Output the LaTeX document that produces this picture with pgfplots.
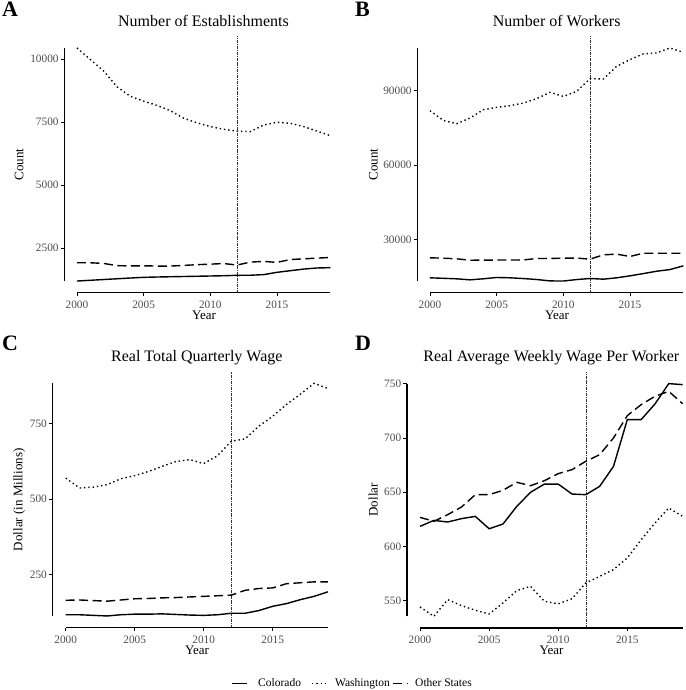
\documentclass[border=0pt]{standalone}
\usepackage{fontspec}
\setmainfont{Liberation Serif}
\usepackage{pgfplots}
\pgfplotsset{compat=1.18}

\tikzset{
  co/.style={black, line width=1.4pt},
  wa/.style={black, line width=1.4pt, dash pattern=on 1.4pt off 2.9pt},
  ot/.style={black, line width=1.4pt, dash pattern=on 9pt off 4.5pt},
  refl/.style={black!80, line width=0.6pt, dash pattern=on 3pt off 1pt on 0.8pt off 1pt},
}
\pgfplotsset{
  panel/.style={
    scale only axis, anchor=south west,
    axis lines*=left, axis line style={draw=none},
    clip=false, scaled ticks=false,
    xmin=1999.05, xmax=2019.95,
    xtick={2000,2005,2010,2015}, xticklabels={2000,2005,2010,2015},
    tick align=outside, major tick length=3.5pt,
    tick style={black, line width=0.7pt},
    ticklabel style={font=\fontsize{11.3}{13}\selectfont, text=black!70},
    yticklabel style={xshift=1.3pt},
    xticklabel style={yshift=-1pt},
  },
}
\newcommand{\capaxes}{%
  \draw[line width=1.6pt] (rel axis cs:0,0.04545) -- (rel axis cs:0,0.95455);
  \draw[line width=1.6pt] (rel axis cs:0.04545,0) -- (rel axis cs:0.95455,0);}

\begin{document}
\begin{tikzpicture}
\useasboundingbox (0,0) rectangle (685pt,690pt);

% A: establishments
\begin{axis}[panel, at={(64.3pt,397.3pt)}, width=278.7pt, height=256.4pt,
  ymin=737.5, ymax=10912.5,
  ytick={2500,5000,7500,10000}, yticklabels={2500,5000,7500,10000}]
\addplot[refl] coordinates {(2012,737.5) (2012,10912.5)};
\addplot[co] coordinates {(2000,1200) (2001,1230) (2002,1260) (2003,1290) (2004,1320) (2005,1347) (2006,1360) (2007,1370) (2008,1380) (2009,1390) (2010,1400) (2011,1410) (2012,1427) (2013,1430) (2014,1455) (2015,1546) (2016,1610) (2017,1675) (2018,1718) (2019,1731)};
\addplot[wa] coordinates {(2000,10450) (2001,9990) (2002,9540) (2003,8910) (2004,8530) (2005,8340) (2006,8170) (2007,7960) (2008,7660) (2009,7480) (2010,7330) (2011,7220) (2012,7150) (2013,7130) (2014,7390) (2015,7500) (2016,7460) (2017,7330) (2018,7150) (2019,6970)};
\addplot[ot] coordinates {(2000,1925) (2001,1925) (2002,1900) (2003,1810) (2004,1800) (2005,1805) (2006,1795) (2007,1793) (2008,1820) (2009,1850) (2010,1870) (2011,1895) (2012,1835) (2013,1950) (2014,1980) (2015,1940) (2016,2055) (2017,2080) (2018,2110) (2019,2135)};
\capaxes
\end{axis}

% B: workers
\begin{axis}[panel, at={(417.3pt,397.3pt)}, width=278.7pt, height=256.4pt,
  ymin=8710, ymax=111890,
  ytick={30000,60000,90000}, yticklabels={30000,60000,90000}]
\addplot[refl] coordinates {(2012,8710) (2012,111890)};
\addplot[co] coordinates {(2000,14690) (2001,14500) (2002,14290) (2003,13880) (2004,14300) (2005,14830) (2006,14700) (2007,14400) (2008,14020) (2009,13450) (2010,13400) (2011,14000) (2012,14420) (2013,14150) (2014,14700) (2015,15490) (2016,16400) (2017,17350) (2018,18020) (2019,19520)};
\addplot[wa] coordinates {(2000,81940) (2001,78030) (2002,76700) (2003,79000) (2004,82340) (2005,83270) (2006,83950) (2007,85000) (2008,86800) (2009,89330) (2010,87700) (2011,89720) (2012,94840) (2013,94700) (2014,99800) (2015,102500) (2016,104800) (2017,105200) (2018,107200) (2019,105400)};
\addplot[ot] coordinates {(2000,22750) (2001,22600) (2002,22340) (2003,21780) (2004,21800) (2005,21850) (2006,21850) (2007,21900) (2008,22460) (2009,22500) (2010,22600) (2011,22650) (2012,22190) (2013,23950) (2014,24220) (2015,23270) (2016,24600) (2017,24600) (2018,24600) (2019,24600)};
\capaxes
\end{axis}

% C: total quarterly wage
\begin{axis}[panel, at={(52.6pt,62.4pt)}, width=288.4pt, height=255.9pt,
  ymin=74.45, ymax=922.55,
  ytick={250,500,750}, yticklabels={250,500,750}]
\addplot[refl] coordinates {(2012,74.45) (2012,922.55)};
\addplot[co] coordinates {(2000,117) (2001,117) (2002,115) (2003,113) (2004,117) (2005,119) (2006,119) (2007,120) (2008,118) (2009,116) (2010,115) (2011,117) (2012,122) (2013,122) (2014,131) (2015,145) (2016,154) (2017,167) (2018,178) (2019,193)};
\addplot[wa] coordinates {(2000,570) (2001,537) (2002,540) (2003,548) (2004,568) (2005,578) (2006,592) (2007,609) (2008,625) (2009,631) (2010,618) (2011,644) (2012,692) (2013,700) (2014,742) (2015,775) (2016,814) (2017,848) (2018,884) (2019,867)};
\addplot[ot] coordinates {(2000,165) (2001,166) (2002,164) (2003,162) (2004,166) (2005,170) (2006,171) (2007,173) (2008,174) (2009,176) (2010,178) (2011,180) (2012,182) (2013,198) (2014,204) (2015,206) (2016,220) (2017,223) (2018,226) (2019,226)};
\capaxes
\end{axis}

% D: average weekly wage
\begin{axis}[panel, at={(406.9pt,62pt)}, width=288.8pt, height=256pt,
  ymin=524.67, ymax=760.73,
  ytick={550,600,650,700,750}, yticklabels={550,600,650,700,750}]
\addplot[refl] coordinates {(2012,524.67) (2012,760.73)};
\addplot[co] coordinates {(2000,618.4) (2001,623.9) (2002,622.4) (2003,625.5) (2004,627.6) (2005,616.2) (2006,620.5) (2007,636.8) (2008,649.8) (2009,657.4) (2010,657.4) (2011,648.2) (2012,647.6) (2013,655.3) (2014,673.7) (2015,716.8) (2016,716.8) (2017,731.2) (2018,750.0) (2019,749.1)};
\addplot[wa] coordinates {(2000,544.1) (2001,535.4) (2002,550.8) (2003,545.3) (2004,541.0) (2005,537.6) (2006,547.8) (2007,559.1) (2008,563.1) (2009,549.3) (2010,546.9) (2011,551.7) (2012,566.2) (2013,572.3) (2014,578.5) (2015,589.3) (2016,606.0) (2017,621.5) (2018,635.3) (2019,627.6)};
\addplot[ot] coordinates {(2000,626.7) (2001,623.0) (2002,629.2) (2003,636.2) (2004,647.6) (2005,647.6) (2006,651.6) (2007,659.0) (2008,655.9) (2009,660.5) (2010,667.0) (2011,670.7) (2012,678.4) (2013,684.5) (2014,699.9) (2015,720.5) (2016,730.6) (2017,738.3) (2018,742.9) (2019,731.5)};
\capaxes
\end{axis}

% titles
\begin{scope}[every node/.style={font=\fontsize{16}{18}\selectfont, anchor=base, inner sep=0pt}]
\node at (203.5pt,663.3pt) {Number of Establishments};
\node at (556.7pt,663.3pt) {Number of Workers};
\node at (196.8pt,328.3pt) {Real Total Quarterly Wage};
\node at (551.3pt,328.3pt) {Real Average Weekly Wage Per Worker};
\end{scope}
% axis titles
\begin{scope}[every node/.style={font=\fontsize{13}{15}\selectfont, anchor=base, inner sep=0pt}]
\node at (204pt,370pt) {Year};
\node at (557pt,370pt) {Year};
\node at (197pt,35pt) {Year};
\node at (551.5pt,35pt) {Year};
\node[rotate=90] at (23.5pt,525.5pt) {Count};
\node[rotate=90] at (377.5pt,525.5pt) {Count};
\node[rotate=90] at (22.3pt,190.2pt) {Dollar (in Millions)};
\node[rotate=90] at (377.5pt,190.2pt) {Dollar};
\end{scope}
% panel letters
\begin{scope}[every node/.style={font=\fontsize{22}{24}\selectfont\bfseries, anchor=base west, inner sep=0pt}]
\node at (2pt,673pt) {A};
\node at (355pt,673pt) {B};
\node at (2pt,339pt) {C};
\node at (355pt,339pt) {D};
\end{scope}
% legend
\draw[co] (232pt,6.7pt) -- (247pt,6.7pt);
\draw[wa] (312pt,6.7pt) -- (327pt,6.7pt);
\draw[ot] (393pt,6.7pt) -- (408pt,6.7pt);
\begin{scope}[every node/.style={font=\fontsize{11.5}{13}\selectfont, anchor=base west, inner sep=0pt}]
\node at (258pt,3.3pt) {Colorado};
\node at (335pt,3.3pt) {Washington};
\node at (415pt,3.3pt) {Other States};
\end{scope}
\end{tikzpicture}
\end{document}
